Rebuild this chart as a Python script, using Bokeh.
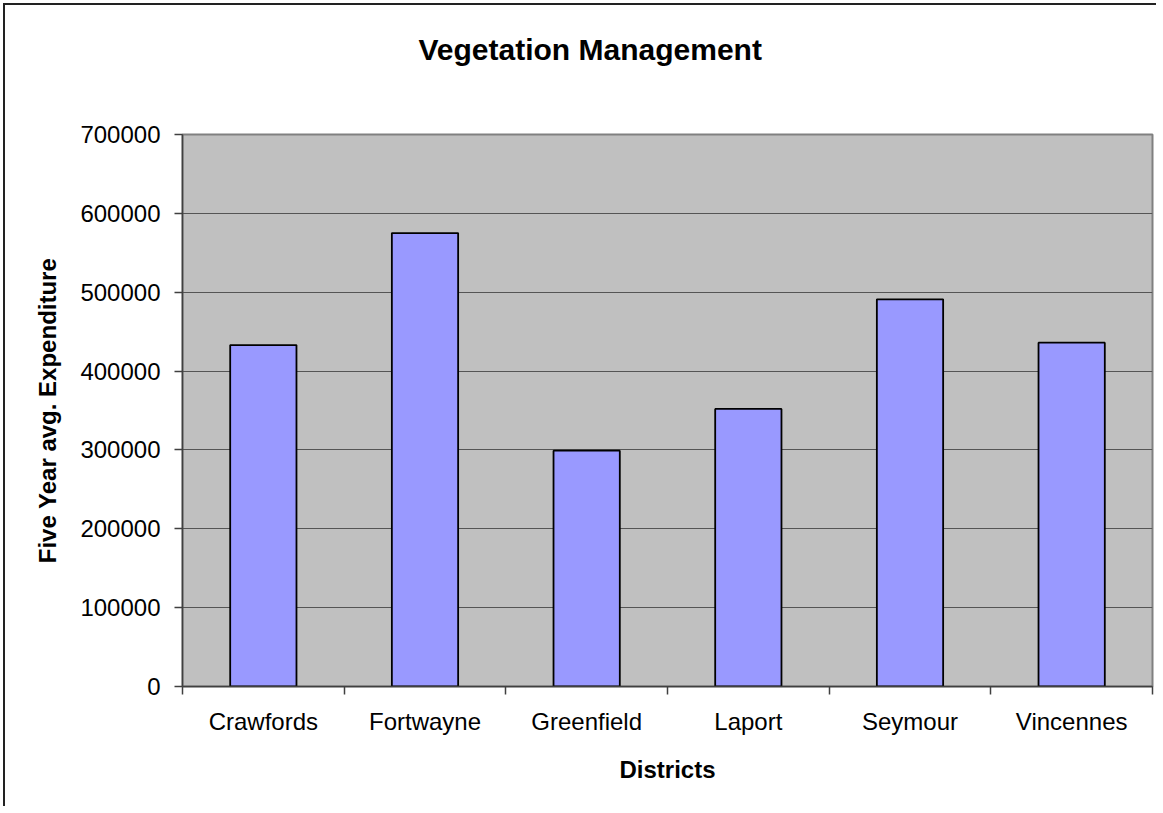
import numpy as np
from bokeh.plotting import figure
from bokeh.models import Range1d, FixedTicker, BasicTickFormatter, ColumnDataSource, Title
from bokeh.embed import file_html
from bokeh.resources import INLINE

districts = ["Crawfords", "Fortwayne", "Greenfield", "Laport", "Seymour", "Vincennes"]
expenditure = [433000, 575000, 299000, 352000, 491000, 436000]
y_ticks = [0, 100000, 200000, 300000, 400000, 500000, 600000, 700000]
title_text = "Vegetation Management"

centers = list(np.arange(len(districts)) + 0.5)
bounds = list(range(len(districts) + 1))
src = ColumnDataSource(dict(x=centers, top=expenditure, name=districts))

FONT = "Liberation Sans"

p = figure(width=1153, height=803, output_backend="svg", toolbar_location=None,
           x_range=Range1d(0, len(districts)), y_range=Range1d(0, 700000),
           min_border_left=177, min_border_top=129, min_border_right=6, min_border_bottom=122)

p.styles = {"border-left": "2px solid #222222", "border-top": "2px solid #222222",
            "margin-left": "3px", "margin-top": "3px"}

p.background_fill_color = "#C0C0C0"
p.border_fill_color = "white"
p.outline_line_color = "#808080"
p.outline_line_width = 2

p.vbar(x="x", top="top", width=0.41, source=src, fill_color="#9999FF",
       line_color="black", line_width=1.8)

# Title
p.title.text = title_text
p.title.text_font = FONT
p.title.text_font_size = "30px"
p.title.text_font_style = "bold"
p.title.text_color = "black"
p.title.align = "left"
p.title.offset = 236
p.title.standoff = 10

# invisible spacer between title and plot area
spacer = Title(text=" ", text_font_size="2px", standoff=60, text_color="white")
p.add_layout(spacer, "above")
p.above = [spacer] + [r for r in p.above if r is not spacer]

# Y axis
ya = p.yaxis[0]
ya.ticker = FixedTicker(ticks=y_ticks)
ya.formatter = BasicTickFormatter(use_scientific=False)
ya.major_tick_out = 8
ya.major_tick_in = 0
ya.minor_tick_out = 0
ya.minor_tick_in = 0
ya.axis_line_color = "#404040"
ya.axis_line_width = 1.5
ya.major_tick_line_color = "#404040"
ya.major_tick_line_width = 1.5
ya.major_label_text_font = FONT
ya.major_label_text_font_size = "24px"
ya.major_label_text_color = "black"
ya.major_label_standoff = 14
ya.axis_label = "Five Year avg. Expenditure"
ya.axis_label_text_font = FONT
ya.axis_label_text_font_size = "24px"
ya.axis_label_text_font_style = "bold"
ya.axis_label_text_color = "black"
ya.axis_label_standoff = 16

# X axis
xa = p.xaxis[0]
xa.ticker = FixedTicker(ticks=centers, minor_ticks=bounds)
xa.major_label_overrides = {c: n for c, n in zip(centers, districts)}
xa.major_tick_out = 0
xa.major_tick_in = 0
xa.minor_tick_out = 8
xa.minor_tick_in = 0
xa.minor_tick_line_color = "#404040"
xa.minor_tick_line_width = 1.5
xa.axis_line_color = "#404040"
xa.axis_line_width = 1.5
xa.major_label_text_font = FONT
xa.major_label_text_font_size = "24px"
xa.major_label_text_color = "black"
xa.major_label_standoff = 13
xa.axis_label = "Districts"
xa.axis_label_text_font = FONT
xa.axis_label_text_font_size = "24px"
xa.axis_label_text_font_style = "bold"
xa.axis_label_text_color = "black"
xa.axis_label_standoff = 18

p.xgrid.visible = False
p.ygrid.ticker = FixedTicker(ticks=y_ticks)
p.ygrid.grid_line_color = "#555555"
p.ygrid.grid_line_width = 1

open("out.html", "w").write(file_html(p, INLINE))
